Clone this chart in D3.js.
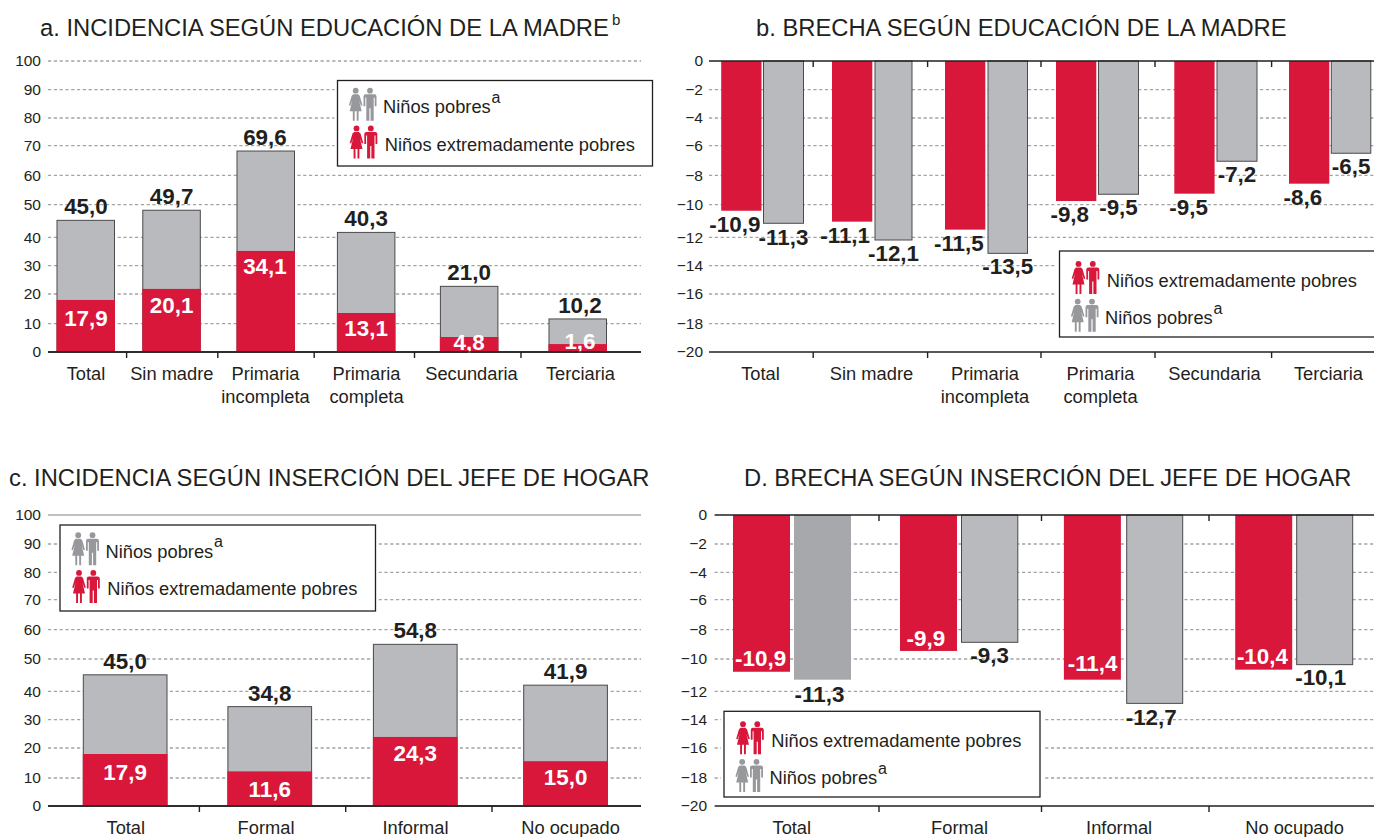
<!DOCTYPE html>
<html><head><meta charset="utf-8">
<script src="https://cdnjs.cloudflare.com/ajax/libs/d3/7.8.5/d3.min.js"></script>
<style>
html,body{margin:0;padding:0;background:#fff}
svg{display:block}
text{font-family:"Liberation Sans",Arial,sans-serif;fill:#231f20}
</style></head><body>
<svg id="c" width="1374" height="837"></svg>
<script>
// ---- Categories
const catsEdu = ["Total","Sin madre","Primaria incompleta","Primaria completa","Secundaria","Terciaria"];
const catsJob = ["Total","Formal","Informal","No ocupado"];
// ---- Axis ticks
const ticksPos = [100,90,80,70,60,50,40,30,20,10,0];
const ticksNeg = [0,-2,-4,-6,-8,-10,-12,-14,-16,-18,-20];
// ---- Bar extents as read against the picture's axis
const aPoor    = [45.2,48.3,68.2,41.5,22.7,11.6];
const aExtreme = [18.0,21.8,35.2,13.6,5.3,2.8];
const bExtreme = [-10.37,-11.04,-11.53,-9.75,-9.25,-8.57];
const bPoor    = [-11.14,-12.19,-13.13,-9.29,-7.05,-6.51];
const cPoor    = [45.1,34.6,55.0,41.9];
const cExtreme = [18.0,12.2,23.9,15.6];
const dExtreme = [-10.79,-9.45,-11.28,-10.66];
const dPoor    = [-11.28,-8.86,-12.85,-10.35];
// ---- Printed value labels
const aPoorLabels    = ["45,0","49,7","69,6","40,3","21,0","10,2"];
const aExtremeLabels = ["17,9","20,1","34,1","13,1","4,8","1,6"];
const bExtremeLabels = ["-10,9","-11,1","-11,5","-9,8","-9,5","-8,6"];
const bPoorLabels    = ["-11,3","-12,1","-13,5","-9,5","-7,2","-6,5"];
const cPoorLabels    = ["45,0","34,8","54,8","41,9"];
const cExtremeLabels = ["17,9","11,6","24,3","15,0"];
const dExtremeLabels = ["-10,9","-9,9","-11,4","-10,4"];
const dPoorLabels    = ["-11,3","-9,3","-12,7","-10,1"];

// ---- Layout (pixels)
const topRowY = [61,89.7,118,145.7,175.3,204.7,237.3,265.7,294,323.7,352];
const botRowY = [515,544,572.3,599.7,629.7,659,691.3,719.7,748,778,806];
const RED="#d8173a", GRAY="#b9babe", DARKGRAY="#a7a8ac", ICON="#97989c", INK="#231f20", GRID="#a3a4a6";
const FS={title:23.75,sup:15,tick:15.5,cat:18.3,val:22.4,leg:18.3,legSup:16};
const BASE=7; // baseline offset from a value label's centre

const svg=d3.select("#c");

function wrapLines(sel,lineH){
  sel.each(function(d){
    const t=d3.select(this), y0=+t.attr("y");
    const lines=String(d).startsWith("Primaria")?String(d).split(" "):[String(d)];
    t.text(null);
    lines.forEach((w,i)=>t.append("tspan").attr("x",0).attr("y",y0+i*lineH).text(w));
  });
}

function frame(o){
  const g=svg.append("g");
  const y=d3.scaleLinear().domain(o.ticks).range(o.rowY);
  const y0=y(0), yBase=Math.max(...o.rowY), yTop=Math.min(...o.rowY);
  g.append("text").attr("x",o.title.x).attr("y",o.title.y).attr("font-size",FS.title).text(o.title.text);
  if(o.title.sup) g.append("text").attr("x",o.title.supX).attr("y",o.title.y-11).attr("font-size",FS.sup).text(o.title.sup);
  g.selectAll("line.g").data(o.ticks.filter(v=>v!==o.ticks[0]&&v!==o.ticks[o.ticks.length-1])).join("line")
    .attr("x1",o.x0).attr("x2",o.x1).attr("y1",y).attr("y2",y)
    .attr("stroke",GRID).attr("stroke-width",1.3).attr("stroke-dasharray","3.2 2.6");
  if(o.topSolid) g.append("line").attr("x1",o.x0).attr("x2",o.x1).attr("y1",yTop).attr("y2",yTop).attr("stroke","#aaabad").attr("stroke-width",1.6);
  else if(o.topDashed) g.append("line").attr("x1",o.x0).attr("x2",o.x1).attr("y1",yTop).attr("y2",yTop).attr("stroke",GRID).attr("stroke-width",1.3).attr("stroke-dasharray","3.2 2.6");
  const ax=g.append("g").attr("transform",`translate(${o.tickX+0},0)`).call(d3.axisLeft(y).tickValues(o.ticks).tickSize(0).tickPadding(0).tickFormat(d3.format("d")));
  ax.select(".domain").remove();
  ax.selectAll("text").attr("font-size",FS.tick).attr("font-family",'"Liberation Sans",Arial,sans-serif').attr("fill",INK);
  const xCat=d3.scaleOrdinal(o.cats,o.catX);
  const bx=g.append("g").attr("transform",`translate(0,${yBase})`).call(d3.axisBottom(xCat).tickSize(0).tickPadding(0));
  bx.select(".domain").remove();
  bx.selectAll("text").attr("font-size",FS.cat).attr("font-family",'"Liberation Sans",Arial,sans-serif').attr("fill",INK)
    .attr("dy",null).attr("y",28.3).call(wrapLines,23);
  g.append("line").attr("x1",o.x0).attr("x2",o.x1).attr("y1",yBase).attr("y2",yBase).attr("stroke",INK).attr("stroke-width",1.6);
  const sepY=o.neg?[yTop,yBase]:[yBase];
  sepY.forEach(sy=>{
    g.selectAll(null).data(o.seps).join("line").attr("x1",d=>d).attr("x2",d=>d).attr("y1",sy).attr("y2",sy+6).attr("stroke",INK).attr("stroke-width",1.4);
  });
  return {g,y,y0,yBase,yTop};
}

function stacked(o){
  const {g,y,y0}=frame(o);
  const x=d3.scaleOrdinal(o.cats,o.barX);
  g.selectAll(null).data(o.cats).join("rect").attr("x",c=>x(c)).attr("width",o.barW)
    .attr("y",(c,i)=>y(o.poor[i])).attr("height",(c,i)=>y0-y(o.poor[i]))
    .attr("fill",GRAY).attr("stroke","#4a4a4c").attr("stroke-width",1);
  g.selectAll(null).data(o.cats).join("rect").attr("x",c=>x(c)-.5).attr("width",o.barW+1)
    .attr("y",(c,i)=>y(o.extreme[i])).attr("height",(c,i)=>y0-y(o.extreme[i]))
    .attr("fill",RED);
  g.selectAll(null).data(o.poorLabels).join("text").attr("text-anchor","middle")
    .attr("x",(d,i)=>x(o.cats[i])+o.barW/2+o.dxTop[i]).attr("y",(d,i)=>y(o.poor[i])-13+BASE)
    .attr("font-size",FS.val).attr("font-weight","bold").text(d=>d);
  g.selectAll(null).data(o.extremeLabels).join("text").attr("text-anchor","middle")
    .attr("x",(d,i)=>x(o.cats[i])+o.barW/2+o.dxTop[i]).attr("y",(d,i)=>y(o.extreme[i])+o.redDy[i]+BASE)
    .style("fill","#fff").attr("font-size",FS.val).attr("font-weight","bold").text(d=>d);
  g.append("line").attr("x1",o.x0).attr("x2",o.x1).attr("y1",y0).attr("y2",y0).attr("stroke",INK).attr("stroke-width",1.6);
  legend(o.legend,["poor","extreme"]);
}

function paired(o){
  const {g,y,y0,yTop}=frame(o);
  const xr=d3.scaleOrdinal(o.cats,o.redX), xg=d3.scaleOrdinal(o.cats,o.grayX);
  g.selectAll(null).data(o.cats).join("rect").attr("x",xr).attr("width",o.redW)
    .attr("y",y0).attr("height",(c,i)=>y(o.extreme[i])-y0).attr("fill",RED);
  g.selectAll(null).data(o.cats).join("rect").attr("x",xg).attr("width",(c,i)=>o.grayW[i])
    .attr("y",y0).attr("height",(c,i)=>y(o.poor[i])-y0)
    .attr("fill",(c,i)=>o.plain&&o.plain[i]?DARKGRAY:GRAY)
    .attr("stroke",(c,i)=>o.plain&&o.plain[i]?"none":"#4a4a4c").attr("stroke-width",1);
  g.selectAll(null).data(o.extremeLabels).join("text").attr("text-anchor","middle")
    .attr("x",(d,i)=>xr(o.cats[i])+o.redW/2+o.redDx[i]).attr("y",(d,i)=>y(o.extreme[i])+o.redDy[i]+BASE)
    .style("fill",o.redInk).attr("font-size",FS.val).attr("font-weight","bold").text(d=>d);
  g.selectAll(null).data(o.poorLabels).join("text").attr("text-anchor","middle")
    .attr("x",(d,i)=>xg(o.cats[i])+o.grayW[i]/2+o.grayDx[i]).attr("y",(d,i)=>y(o.poor[i])+o.grayDy[i]+BASE)
    .attr("font-size",FS.val).attr("font-weight","bold").text(d=>d);
  g.append("line").attr("x1",o.x0).attr("x2",o.x1).attr("y1",yTop).attr("y2",yTop).attr("stroke",INK).attr("stroke-width",1.6);
  legend(o.legend,["extreme","poor"]);
}

function icon(g,x,y,color){
  const i=g.append("g").attr("transform",`translate(${x},${y})`).attr("fill",color);
  i.append("circle").attr("cx",7).attr("cy",2.9).attr("r",2.9);
  i.append("path").attr("d","M4.6 6.4L9.4 6.4L11 8L13.8 17.5L12.3 18L10.4 12.5L13 23.5L9.9 23.5L9.9 33L8 33L8 23.5L6 23.5L6 33L4.1 33L4.1 23.5L1 23.5L3.6 12.5L1.7 18L.2 17.5L3 8Z");
  i.append("circle").attr("cx",21.3).attr("cy",2.9).attr("r",2.9);
  i.append("path").attr("d","M17 6.4L25.6 6.4Q27.8 6.4 27.8 8.6L27.8 18.5L26 18.5L26 10L25 10L25 33L21.9 33L21.9 20.5L20.7 20.5L20.7 33L17.6 33L17.6 10L16.6 10L16.6 18.5L14.8 18.5L14.8 8.6Q14.8 6.4 17 6.4Z");
}

function legend(o,order){
  const g=svg.append("g");
  const poorFirst=order[0]==="poor";
  const iconY=poorFirst?[7.3,45]:[10,47.7], textY=poorFirst?[32.5,70.3]:[35.5,73];
  g.append("rect").attr("x",o.x-3).attr("y",o.y-3).attr("width",o.w+6).attr("height",o.h+6).attr("fill","#fff");
  g.append("rect").attr("x",o.x).attr("y",o.y).attr("width",o.w).attr("height",o.h).attr("fill","#fff").attr("stroke",INK).attr("stroke-width",1.3);
  order.forEach((k,i)=>{
    const ix=o.x+(k==="poor"?11.2:12), tx=o.x+(k==="poor"?45.5:47.3);
    icon(g,ix,o.y+iconY[i],k==="poor"?ICON:RED);
    g.append("text").attr("x",tx).attr("y",o.y+textY[i]).attr("font-size",FS.leg).text(k==="poor"?"Niños pobres":"Niños extremadamente pobres");
    if(k==="poor") g.append("text").attr("x",tx+108.5).attr("y",o.y+textY[i]-10.5).attr("font-size",FS.legSup).text("a");
  });
}

stacked({
  cats:catsEdu,ticks:ticksPos,rowY:topRowY,x0:48,x1:641,tickX:41,topDashed:true,
  title:{text:"a. INCIDENCIA SEGÚN EDUCACIÓN DE LA MADRE",x:40,y:36,sup:"b",supX:612},
  catX:[85.5,171.3,265,366,471,580],seps:[126.6,217.8,314.2,414.5,521],
  barX:[57,142.8,237,337.4,440.4,549],barW:57.5,
  poor:aPoor,extreme:aExtreme,poorLabels:aPoorLabels,extremeLabels:aExtremeLabels,
  dxTop:[.2,0,-.8,-.1,0,2.2],redDy:[19,17,16,16,6,-2],
  legend:{x:337.5,y:80.5,w:315,h:85.5}
});
paired({
  neg:true,cats:catsEdu,ticks:ticksNeg,rowY:topRowY,x0:709,x1:1374,tickX:703,
  title:{text:"b. BRECHA SEGÚN EDUCACIÓN DE LA MADRE",x:756,y:36},
  catX:[760,871,984.5,1100,1214,1328],seps:[813.2,927.6,1041,1155,1271.6],
  redX:[721.2,832,945,1056,1174.3,1289],redW:40.3,
  grayX:[763.5,875,988,1098.5,1217,1331.3],grayW:[40,37,39.5,40,40,39.5],
  extreme:bExtreme,poor:bPoor,extremeLabels:bExtremeLabels,poorLabels:bPoorLabels,
  redDx:[-6.5,-7,-6.3,-6.4,-5.8,-6.3],redDy:[14.3,14.3,14.3,14,14.6,14.6],
  grayDx:[0,0,0,0,0,0],grayDy:[14.5,14,13.5,14,13.7,13.4],redInk:INK,
  legend:{x:1059.5,y:251,w:330,h:86}
});
stacked({
  cats:catsJob,ticks:ticksPos,rowY:botRowY,x0:48,x1:641,tickX:41,topSolid:true,
  title:{text:"c. INCIDENCIA SEGÚN INSERCIÓN DEL JEFE DE HOGAR",x:9,y:486},
  catX:[125.3,265.5,415,570],seps:[199.4,345.7,492],
  barX:[83.3,227.9,373.4,523.7],barW:83.7,
  poor:cPoor,extreme:cExtreme,poorLabels:cPoorLabels,extremeLabels:cExtremeLabels,
  dxTop:[0,0,0,0],redDy:[19,18.7,17,16.7],
  legend:{x:60,y:525,w:315.5,h:86}
});
paired({
  neg:true,cats:catsJob,ticks:ticksNeg,rowY:botRowY,x0:714.6,x1:1374,tickX:707,
  title:{text:"D. BRECHA SEGÚN INSERCIÓN DEL JEFE DE HOGAR",x:744,y:486},
  catX:[791.3,959,1118.6,1294],seps:[879,1041.5,1209],
  redX:[733,900,1063.9,1235.2],redW:57,
  grayX:[794,961.5,1126.7,1296.7],grayW:[57,56.3,56,56],plain:[true,false,false,false],
  extreme:dExtreme,poor:dPoor,extremeLabels:dExtremeLabels,poorLabels:dPoorLabels,
  redDx:[-.9,-2.7,.2,-1.3],redDy:[-12.4,-11.7,-15.7,-12.4],
  grayDx:[-3,0,-3.5,-4],grayDy:[15.6,13.7,15,13.6],redInk:"#fff",
  legend:{x:724,y:711.3,w:316,h:85.7}
});
</script>
</body></html>
